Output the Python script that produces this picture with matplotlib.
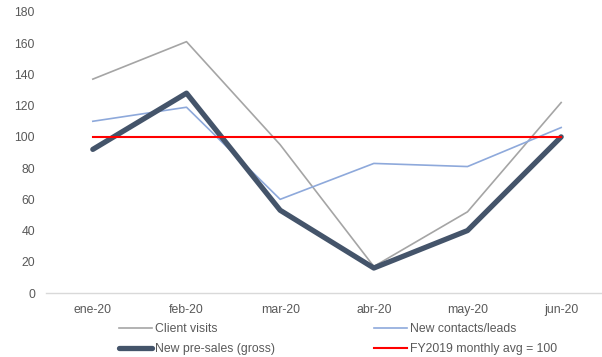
import matplotlib
matplotlib.use("Agg")
import matplotlib.pyplot as plt

months = ["ene-20", "feb-20", "mar-20", "abr-20", "may-20", "jun-20"]
client_visits = [137, 161, 95, 17, 52, 122]
new_leads = [110, 119, 60, 83, 81, 106]
new_presales = [92, 128, 53, 16, 40, 100]
fy2019_avg = [100, 100, 100, 100, 100, 100]
yticks = [0, 20, 40, 60, 80, 100, 120, 140, 160, 180]

plt.rcParams['font.family'] = ['Liberation Sans', 'DejaVu Sans']

W, H = 602, 357
fig = plt.figure(figsize=(W / 100, H / 100), dpi=100)
ax = fig.add_axes([46 / W, (H - 293) / H, (608 - 46) / W, (293 - 12) / H])

x = list(range(len(months)))
l1, = ax.plot(x, client_visits, color="#A5A5A5", lw=1.2, label="Client visits")
l2, = ax.plot(x, new_leads, color="#8EA9DB", lw=1.2, label="New contacts/leads")
l3, = ax.plot(x, new_presales, color="#44546A", lw=3.8, label="New pre-sales (gross)",
              solid_capstyle="round", solid_joinstyle="round")
l4, = ax.plot(x, fy2019_avg, color="#FF0000", lw=1.5, label="FY2019 monthly avg = 100")

ax.set_xlim(-0.5, len(months) - 0.5)
ax.set_ylim(0, 180)
ax.set_yticks(yticks)
ax.set_xticks(x)
ax.set_xticklabels(months)
for s in ["top", "right", "left"]:
    ax.spines[s].set_visible(False)
ax.spines["bottom"].set_color("#D9D9D9")
ax.spines["bottom"].set_linewidth(1.0)
ax.tick_params(axis="both", length=0, labelsize=8.8, colors="#595959")
ax.tick_params(axis="y", pad=8)
ax.tick_params(axis="x", pad=8)

fig.legend(handles=[l1, l3, l2, l4], ncol=2, loc="upper left",
           bbox_to_anchor=(119 / W, 1 - 323 / H), frameon=False,
           fontsize=8.8, labelcolor="#595959", handlelength=2.7,
           handletextpad=0.25, columnspacing=8.1, labelspacing=0.65,
           borderpad=0, borderaxespad=0)

fig.savefig("out.png", dpi=100)
